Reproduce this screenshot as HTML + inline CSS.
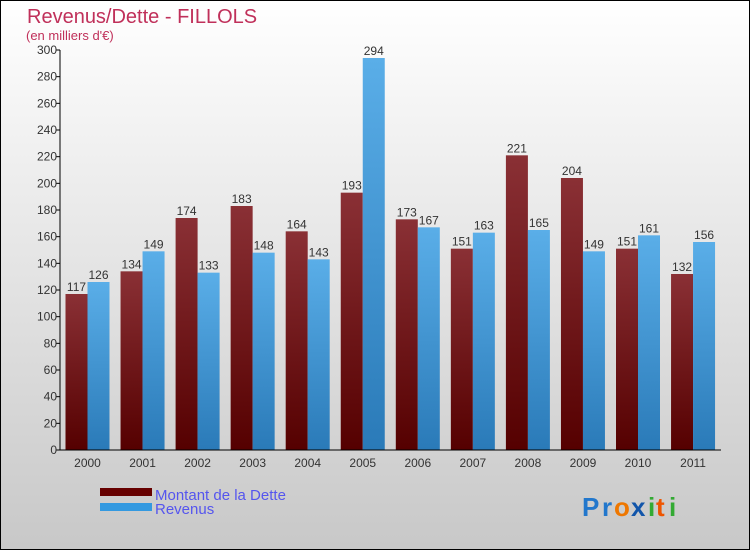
<!DOCTYPE html>
<html><head><meta charset="utf-8"><style>
body{margin:0}
svg text{font-family:"Liberation Sans",sans-serif}
</style></head><body>
<svg width="750" height="550" xmlns="http://www.w3.org/2000/svg">
<defs>
<linearGradient id="bg" x1="0" y1="0" x2="0" y2="1"><stop offset="0" stop-color="#ffffff"/><stop offset="1" stop-color="#c8c8c8"/></linearGradient>
<linearGradient id="gd" x1="0" y1="0" x2="0" y2="1"><stop offset="0" stop-color="#8a3035"/><stop offset="1" stop-color="#550000"/></linearGradient>
<linearGradient id="gr" x1="0" y1="0" x2="0" y2="1"><stop offset="0" stop-color="#5aaee8"/><stop offset="1" stop-color="#2a7ab8"/></linearGradient>
</defs>
<rect x="0.5" y="0.5" width="749" height="549" fill="url(#bg)" stroke="#000"/>
<text x="27" y="23" font-size="20" fill="#c0305a">Revenus/Dette - FILLOLS</text>
<text x="26" y="40" font-size="13" fill="#c0305a">(en milliers d'€)</text>
<g id="plot"></g>
<rect x="100" y="488" width="52" height="8" fill="#660000"/>
<text x="155" y="500" font-size="15" fill="#5555ee">Montant de la Dette</text>
<rect x="100" y="503" width="52" height="8" fill="#3399e0"/>
<text x="155" y="514" font-size="15" fill="#5555ee">Revenus</text>
<g font-size="26" font-weight="bold">
<text x="582" y="516" fill="#2277cc">P</text><text x="602" y="516" fill="#2277cc">r</text><text x="614" y="516" fill="#ee7700">o</text><text x="631" y="516" fill="#1155aa">x</text><text x="648" y="516" fill="#33aa33">i</text><text x="656" y="516" fill="#ee5500">t</text><text x="669" y="516" fill="#33aa33">i</text>
</g>
</svg>
<script>
const years=["2000","2001","2002","2003","2004","2005","2006","2007","2008","2009","2010","2011"];
const dette=[117,134,174,183,164,193,173,151,221,204,151,132];
const revenus=[126,149,133,148,143,294,167,163,165,149,161,156];
const yTicks=[0,20,40,60,80,100,120,140,160,180,200,220,240,260,280,300];
const NS="http://www.w3.org/2000/svg";
const g=document.getElementById('plot');
const y0=450,x0=60,x1=721,ppu=400/300;
const yS=v=>y0-v*ppu;
const xS=i=>65.5+i*55.05;
function mk(t,a){const e=document.createElementNS(NS,t);for(const k in a)e.setAttribute(k,a[k]);g.appendChild(e);return e;}
yTicks.forEach(v=>{
 const l=mk('line',{x1:x0-4,x2:x0,y1:yS(v),y2:yS(v),stroke:'#000'});
 
 
 const t=mk('text',{x:x0-3,y:yS(v)+4,'font-size':12,'text-anchor':'end',fill:'#333'});
 t.textContent=v;
 
 
});
years.forEach((yr,i)=>{
 const x=xS(i);
 const b1=mk('rect',{x:x,y:yS(dette[i]),width:22,height:dette[i]*ppu,fill:'url(#gd)'});
 
 
 const b2=mk('rect',{x:x+22,y:yS(revenus[i]),width:22,height:revenus[i]*ppu,fill:'url(#gr)'});
 
 
 const t1=mk('text',{x:x+11,y:yS(dette[i])-3,'font-size':12,'text-anchor':'middle',fill:'#333'});
 t1.textContent=dette[i];
 
 
 const t2=mk('text',{x:x+33,y:yS(revenus[i])-3,'font-size':12,'text-anchor':'middle',fill:'#333'});
 t2.textContent=revenus[i];
 
 
 const xl=mk('text',{x:x+22,y:467,'font-size':12,'text-anchor':'middle',fill:'#333'});
 xl.textContent=yr;
 
 
});
const ya=mk('line',{x1:x0,x2:x0,y1:50,y2:y0,stroke:'#000'});


const xa=mk('line',{x1:x0,x2:x1,y1:y0,y2:y0,stroke:'#000'});


</script>
</body></html>
